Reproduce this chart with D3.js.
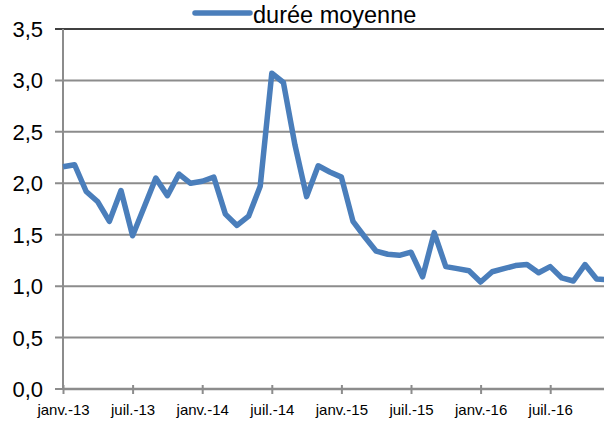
<!DOCTYPE html>
<html>
<head>
<meta charset="utf-8">
<script src="https://cdn.jsdelivr.net/npm/d3@7"></script>
<style>
  body { margin: 0; background: #fff; }
  text { font-family: "Liberation Sans", Arial, sans-serif; fill: #000; }
</style>
</head>
<body>
<div id="chart"></div>
<script>
// monthly values, janv.-13 .. déc.-16
const values = [
  2.16, 2.18, 1.92, 1.82, 1.63, 1.93, 1.49, 1.77, 2.05, 1.88, 2.09, 2.00,
  2.02, 2.06, 1.70, 1.59, 1.68, 1.97, 3.07, 2.98, 2.37, 1.87, 2.17, 2.11,
  2.06, 1.63, 1.48, 1.34, 1.31, 1.30, 1.33, 1.09, 1.52, 1.19, 1.17, 1.15,
  1.04, 1.14, 1.17, 1.20, 1.21, 1.13, 1.19, 1.08, 1.05, 1.21, 1.07, 1.06
];
const tickLabels = ['janv.-13', 'juil.-13', 'janv.-14', 'juil.-14', 'janv.-15', 'juil.-15', 'janv.-16', 'juil.-16'];
const yTicks = [0, 0.5, 1, 1.5, 2, 2.5, 3, 3.5];
const seriesName = 'durée moyenne';

const width = 604, height = 421;
const plotLeft = 63, plotTop = 29, plotBottom = 389;
const monthStep = 11.6;

const svg = d3.select('#chart').append('svg')
  .attr('width', width)
  .attr('height', height);

const x = d3.scaleLinear()
  .domain([0, values.length - 1])
  .range([plotLeft, plotLeft + (values.length - 1) * monthStep]);

const y = d3.scaleLinear()
  .domain([0, 3.5])
  .range([plotBottom, plotTop]);

const fmt = v => d3.format('.1f')(v).replace('.', ',');

// gridlines
svg.append('g')
  .selectAll('line')
  .data(yTicks)
  .join('line')
  .attr('x1', plotLeft - 8)
  .attr('x2', width)
  .attr('y1', d => y(d))
  .attr('y2', d => y(d))
  .attr('stroke', d => d === 3.5 ? '#000' : '#8c8c8c')
  .attr('stroke-width', d => d === 3.5 ? 1.5 : 2);

// y labels
svg.append('g')
  .selectAll('text')
  .data(yTicks)
  .join('text')
  .attr('x', 43)
  .attr('y', d => y(d) + 8)
  .attr('text-anchor', 'end')
  .attr('font-size', 22)
  .text(fmt);

// y axis line
svg.append('line')
  .attr('x1', plotLeft).attr('x2', plotLeft)
  .attr('y1', plotTop).attr('y2', plotBottom)
  .attr('stroke', '#8c8c8c')
  .attr('stroke-width', 2);

// x axis
const xAxis = d3.axisBottom(x)
  .tickValues(tickLabels.map((d, i) => i * 6))
  .tickFormat((d, i) => tickLabels[i])
  .tickSizeInner(5)
  .tickSizeOuter(0)
  .tickPadding(10);

const gx = svg.append('g')
  .attr('transform', `translate(0,${plotBottom})`)
  .call(xAxis);
gx.select('.domain').attr('stroke', '#8c8c8c').attr('stroke-width', 2.5)
  .attr('d', `M${plotLeft},0H${width}`);
gx.selectAll('.tick line').attr('stroke', '#8c8c8c').attr('stroke-width', 2)
  .attr('y1', -4).attr('y2', 5);
gx.selectAll('.tick text')
  .attr('font-size', 15)
  .attr('font-family', '"Liberation Sans", Arial, sans-serif')
  .attr('fill', '#000');

// series line
const line = d3.line()
  .x((d, i) => x(i))
  .y(d => y(d))
  .curve(d3.curveLinear);

svg.append('path')
  .datum(values)
  .attr('d', line)
  .attr('fill', 'none')
  .attr('stroke', '#4a7ebb')
  .attr('stroke-width', 5.5)
  .attr('stroke-linejoin', 'round');

// legend
const legend = svg.append('g');
legend.append('line')
  .attr('x1', 195).attr('x2', 250)
  .attr('y1', 13).attr('y2', 13)
  .attr('stroke', '#4a7ebb')
  .attr('stroke-width', 5.5)
  .attr('stroke-linecap', 'round');
legend.append('text')
  .attr('x', 253)
  .attr('y', 23)
  .attr('font-size', 23.5)
  .text(seriesName);
</script>
</body>
</html>
